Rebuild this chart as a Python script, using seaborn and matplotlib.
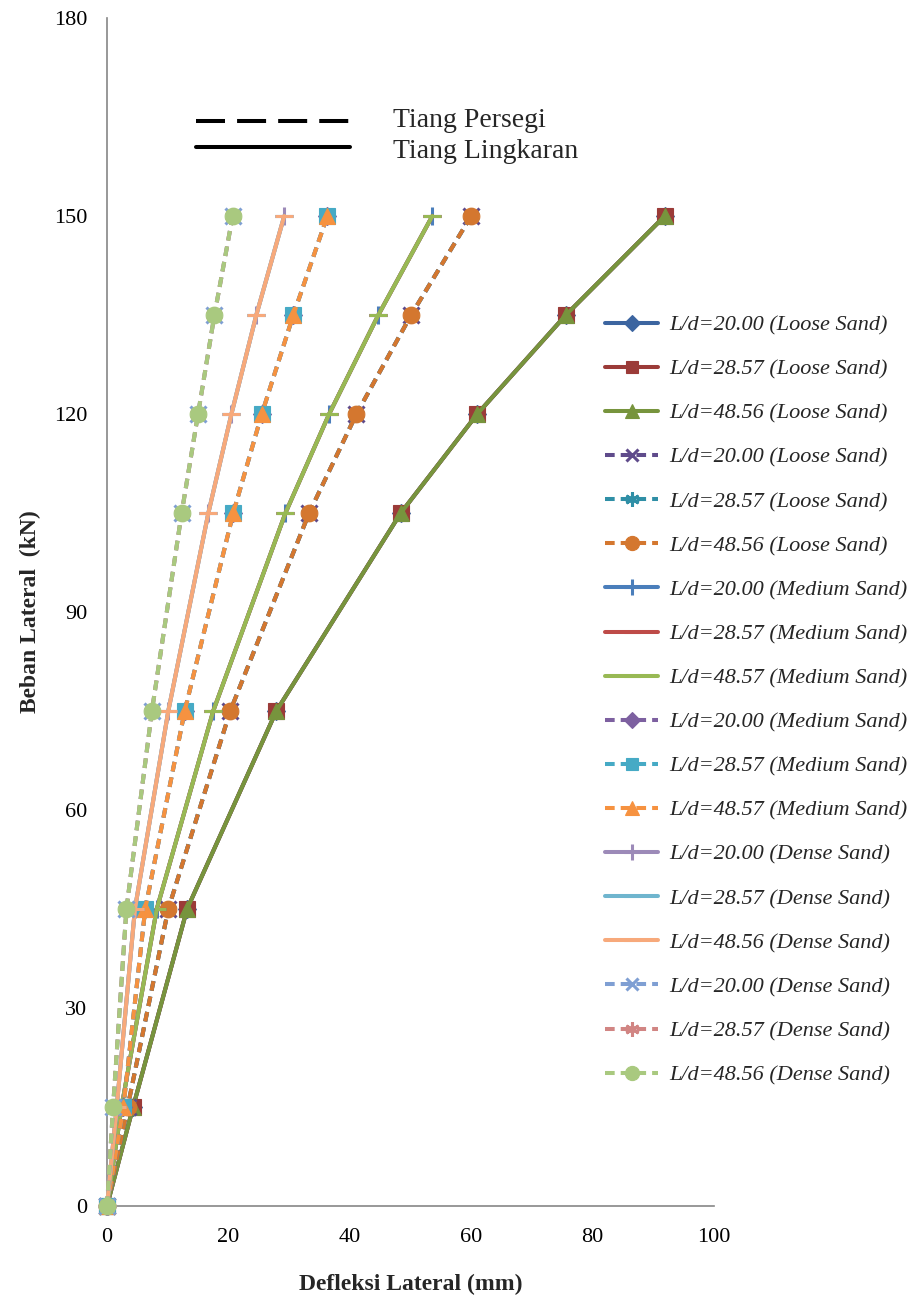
import numpy as np
import pandas as pd
import matplotlib.pyplot as plt
import seaborn as sns
from matplotlib.lines import Line2D

# Beban lateral (kN)
beban = [0, 15, 45, 75, 105, 120, 135, 150]

# Defleksi lateral (mm): lingkaran = solid line, persegi = dashed line
loose_lingkaran = [0, 4.3, 13.2, 27.9, 48.4, 61.0, 75.6, 91.9]
loose_persegi = [0, 3.4, 10.1, 20.3, 33.3, 41.1, 50.1, 60.0]
medium_lingkaran = [0, 2.4, 8.2, 17.5, 29.4, 36.6, 44.7, 53.6]
medium_persegi = [0, 2.7, 6.3, 12.8, 20.8, 25.5, 30.7, 36.3]
dense_lingkaran = [0, 1.6, 4.6, 10.1, 16.7, 20.5, 24.6, 29.2]
dense_persegi = [0, 1.0, 3.2, 7.4, 12.3, 15.0, 17.7, 20.7]

# (label, deflection, colour, marker, dashed)
series = [
    ("L/d=20.00 (Loose Sand)", loose_lingkaran, "#3C65A0", "D", False),
    ("L/d=28.57 (Loose Sand)", loose_lingkaran, "#9B3B38", "s", False),
    ("L/d=48.56 (Loose Sand)", loose_lingkaran, "#77943D", "^", False),
    ("L/d=20.00 (Loose Sand)", loose_persegi, "#5F4B8B", "x", True),
    ("L/d=28.57 (Loose Sand)", loose_persegi, "#2F8FA6", (6, 2, 0), True),
    ("L/d=48.56 (Loose Sand)", loose_persegi, "#D4772F", "o", True),
    ("L/d=20.00 (Medium Sand)", medium_lingkaran, "#4A7EBB", "+", False),
    ("L/d=28.57 (Medium Sand)", medium_lingkaran, "#BE4B48", "_", False),
    ("L/d=48.57 (Medium Sand)", medium_lingkaran, "#98B954", "_", False),
    ("L/d=20.00 (Medium Sand)", medium_persegi, "#7D60A0", "D", True),
    ("L/d=28.57 (Medium Sand)", medium_persegi, "#46AAC5", "s", True),
    ("L/d=48.57 (Medium Sand)", medium_persegi, "#F69240", "^", True),
    ("L/d=20.00 (Dense Sand)", dense_lingkaran, "#9C8AB8", "+", False),
    ("L/d=28.57 (Dense Sand)", dense_lingkaran, "#6FB5CE", "_", False),
    ("L/d=48.56 (Dense Sand)", dense_lingkaran, "#F7A97B", "_", False),
    ("L/d=20.00 (Dense Sand)", dense_persegi, "#7F9FD3", "x", True),
    ("L/d=28.57 (Dense Sand)", dense_persegi, "#D18583", (6, 2, 0), True),
    ("L/d=48.56 (Dense Sand)", dense_persegi, "#A9C97F", "o", True),
]

sns.set_style("white")
plt.rcParams["font.family"] = ["Liberation Serif", "DejaVu Serif"]

fig = plt.figure(figsize=(9.19, 13), dpi=100)
ax = fig.add_axes([107 / 919, 1 - 1206 / 1300, 607 / 919, 1188 / 1300])

msize = {"D": 9, "s": 11, "^": 12, "o": 12, "x": 11, "+": 13, "_": 13}
for i, (label, defl, color, marker, dashed) in enumerate(series):
    df = pd.DataFrame({"defleksi": defl, "beban": beban})
    ms = msize.get(marker, 12) if isinstance(marker, str) else 12
    sns.lineplot(
        data=df, x="defleksi", y="beban", ax=ax,
        color=color, marker=marker, markersize=ms,
        mec=color, mew=2.2 if marker in ("x", "+", "_") or not isinstance(marker, str) else 0.8,
        lw=2.9, linestyle=(0, (2.4, 1.5)) if dashed else "-",
        label=label, estimator=None, sort=False, clip_on=False, zorder=3 + i * 0.01,
    )

ax.set_xlim(0, 100)
ax.set_ylim(0, 180)
ax.set_xticks(range(0, 101, 20))
ax.set_yticks(range(0, 181, 10))
ax.set_yticklabels([str(v) if v % 30 == 0 else "" for v in range(0, 181, 10)])
ax.tick_params(axis="both", direction="out", length=5, width=1, color="#868686",
               labelsize=16, labelcolor="black")
ax.tick_params(axis="y", pad=9)
ax.tick_params(axis="x", pad=11)
for side in ["top", "right"]:
    ax.spines[side].set_visible(False)
for side in ["left", "bottom"]:
    ax.spines[side].set_color("#868686")
    ax.spines[side].set_linewidth(1.2)

ax.set_xlabel("Defleksi Lateral (mm)", fontsize=17, fontweight="bold")
ax.set_ylabel("Beban Lateral  (kN)", fontsize=17, fontweight="bold")
ax.xaxis.set_label_coords(0.5, -0.057)
ax.yaxis.set_label_coords(-0.108, 0.5)

handles, labels = ax.get_legend_handles_labels()
ax.legend(handles, labels, loc="upper left",
          bbox_to_anchor=(605 / 919, 1 - 315 / 1300), bbox_transform=fig.transFigure,
          frameon=False, borderpad=0, borderaxespad=0, handlelength=2.4,
          handletextpad=0.5, labelspacing=1.06, markerscale=0.85,
          prop={"family": "Liberation Serif", "style": "italic", "size": 16})

# pile shape key
fig.add_artist(Line2D([196 / 919, 350 / 919], [1 - 121 / 1300] * 2, transform=fig.transFigure,
                      color="black", lw=2.9, linestyle=(0, (7.2, 3.0))))
fig.add_artist(Line2D([196 / 919, 350 / 919], [1 - 147 / 1300] * 2, transform=fig.transFigure,
                      color="black", lw=2.9))
fig.text(393 / 919, 1 - 127 / 1300, "Tiang Persegi", fontsize=20, va="baseline")
fig.text(393 / 919, 1 - 158 / 1300, "Tiang Lingkaran", fontsize=20, va="baseline")

fig.savefig("out.png", dpi=100)
